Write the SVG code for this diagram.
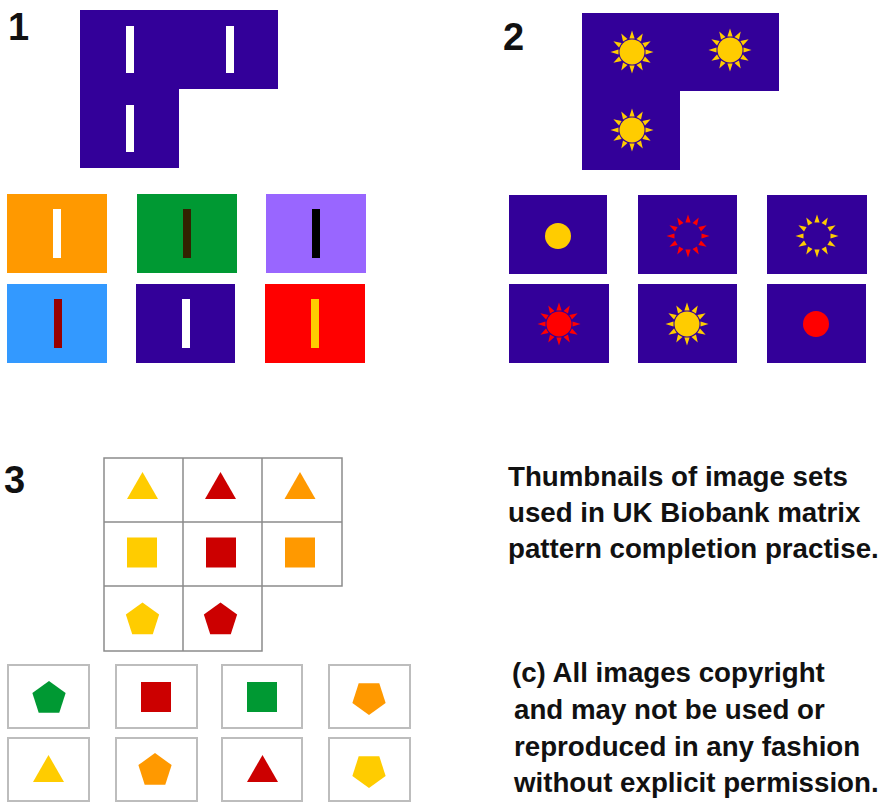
<svg xmlns="http://www.w3.org/2000/svg" xmlns:xlink="http://www.w3.org/1999/xlink" width="885" height="805" viewBox="0 0 885 805">
<style>
.num{font-family:"Liberation Sans",Arial,sans-serif;font-weight:bold;font-size:38px;fill:#111}
.txt{font-family:"Liberation Sans",Arial,sans-serif;font-weight:bold;font-size:27.7px;fill:#111}
.navy{fill:#330099}
.cell{fill:none;stroke:#8c8c8c;stroke-width:1.5}
.opt{fill:#fff;stroke:#bdbdbd;stroke-width:2}
</style>
<defs>
<g id="rays">
<polygon points="-2.6,-13.5 2.6,-13.5 0,-21.5"/>
<polygon points="-2.6,-13.5 2.6,-13.5 0,-21.5" transform="rotate(30)"/>
<polygon points="-2.6,-13.5 2.6,-13.5 0,-21.5" transform="rotate(60)"/>
<polygon points="-2.6,-13.5 2.6,-13.5 0,-21.5" transform="rotate(90)"/>
<polygon points="-2.6,-13.5 2.6,-13.5 0,-21.5" transform="rotate(120)"/>
<polygon points="-2.6,-13.5 2.6,-13.5 0,-21.5" transform="rotate(150)"/>
<polygon points="-2.6,-13.5 2.6,-13.5 0,-21.5" transform="rotate(180)"/>
<polygon points="-2.6,-13.5 2.6,-13.5 0,-21.5" transform="rotate(210)"/>
<polygon points="-2.6,-13.5 2.6,-13.5 0,-21.5" transform="rotate(240)"/>
<polygon points="-2.6,-13.5 2.6,-13.5 0,-21.5" transform="rotate(270)"/>
<polygon points="-2.6,-13.5 2.6,-13.5 0,-21.5" transform="rotate(300)"/>
<polygon points="-2.6,-13.5 2.6,-13.5 0,-21.5" transform="rotate(330)"/>
</g>
<g id="sun"><use xlink:href="#rays"/><circle r="12.5"/></g>
<polygon id="pent" points="0,-17.5 16.64,-5.41 10.29,14.16 -10.29,14.16 -16.64,-5.41"/>
<polygon id="tri" points="0,-14 15.5,13 -15.5,13"/>
<rect id="sq" x="-15" y="-15" width="30" height="30"/>
</defs>
<rect width="885" height="805" fill="#fff"/>

<g id="panel1">
<text class="num" x="8" y="40">1</text>
<path class="navy" d="M80,10 H278 V89 H179 V168 H80 Z"/>
<g fill="#fff">
<rect x="126" y="26" width="8" height="47"/>
<rect x="226" y="26" width="8" height="47"/>
<rect x="126" y="105" width="8" height="47"/>
</g>
<g id="p1-opt1"><rect x="7" y="194" width="100" height="79" fill="#FF9900"/><rect x="53" y="209" width="8" height="49" fill="#fff"/></g>
<g id="p1-opt2"><rect x="137" y="194" width="100" height="79" fill="#009933"/><rect x="183" y="209" width="8" height="49" fill="#332200"/></g>
<g id="p1-opt3"><rect x="266" y="194" width="100" height="79" fill="#9966FF"/><rect x="312" y="209" width="8" height="49" fill="#000"/></g>
<g id="p1-opt4"><rect x="7" y="284" width="100" height="79" fill="#3399FF"/><rect x="54" y="299" width="8" height="49" fill="#990000"/></g>
<g id="p1-opt5"><rect x="136" y="284" width="99" height="79" fill="#330099"/><rect x="182" y="299" width="8" height="49" fill="#fff"/></g>
<g id="p1-opt6"><rect x="265" y="284" width="100" height="79" fill="#FF0000"/><rect x="311" y="299" width="8" height="49" fill="#FFCC00"/></g>
</g>

<g id="panel2">
<text class="num" x="503" y="50">2</text>
<path class="navy" d="M582,13 H779 V91 H680 V170 H582 Z"/>
<g fill="#FFCC00">
<use xlink:href="#sun" x="632" y="52"/>
<use xlink:href="#sun" x="730" y="50"/>
<use xlink:href="#sun" x="632" y="130"/>
</g>
<g id="p2-opt1"><rect class="navy" x="509" y="195" width="98" height="79"/><circle cx="558" cy="236" r="13" fill="#FFCC00"/></g>
<g id="p2-opt2"><rect class="navy" x="638" y="195" width="99" height="79"/><use xlink:href="#rays" x="688" y="236" fill="#FF0000"/></g>
<g id="p2-opt3"><rect class="navy" x="767" y="195" width="100" height="79"/><use xlink:href="#rays" x="817" y="236" fill="#FFCC00"/></g>
<g id="p2-opt4"><rect class="navy" x="509" y="284" width="100" height="79"/><use xlink:href="#sun" x="559" y="324" fill="#FF0000"/></g>
<g id="p2-opt5"><rect class="navy" x="638" y="284" width="99" height="79"/><use xlink:href="#sun" x="687" y="324" fill="#FFCC00"/></g>
<g id="p2-opt6"><rect class="navy" x="767" y="284" width="99" height="79"/><circle cx="816" cy="324" r="13" fill="#FF0000"/></g>
</g>

<g id="panel3">
<text class="num" x="4" y="493">3</text>
<path class="cell" d="M104,458 H342 V586 H262 V651 H104 Z M183,458 V651 M262,458 V586 M104,522 H342 M104,586 H262"/>
<use xlink:href="#tri" x="142.5" y="486" fill="#FFCC00"/>
<use xlink:href="#tri" x="220.5" y="486" fill="#CC0000"/>
<use xlink:href="#tri" x="300" y="486" fill="#FF9900"/>
<use xlink:href="#sq" x="142" y="552.5" fill="#FFCC00"/>
<use xlink:href="#sq" x="221" y="552.5" fill="#CC0000"/>
<use xlink:href="#sq" x="300" y="552.5" fill="#FF9900"/>
<use xlink:href="#pent" x="142.5" y="620" fill="#FFCC00"/>
<use xlink:href="#pent" x="220.5" y="620" fill="#CC0000"/>

<g id="p3-opt1"><rect class="opt" x="8" y="665" width="81" height="63"/><use xlink:href="#pent" x="49" y="698.5" fill="#009933"/></g>
<g id="p3-opt2"><rect class="opt" x="116" y="665" width="81" height="63"/><use xlink:href="#sq" x="156" y="697" fill="#CC0000"/></g>
<g id="p3-opt3"><rect class="opt" x="222" y="665" width="80" height="63"/><use xlink:href="#sq" x="262" y="697" fill="#009933"/></g>
<g id="p3-opt4"><rect class="opt" x="329" y="665" width="81" height="63"/><use xlink:href="#pent" transform="translate(369,697.5) rotate(180)" fill="#FF9900"/></g>
<g id="p3-opt5"><rect class="opt" x="8" y="738" width="81" height="63"/><use xlink:href="#tri" x="48.5" y="769" fill="#FFCC00"/></g>
<g id="p3-opt6"><rect class="opt" x="116" y="738" width="81" height="63"/><use xlink:href="#pent" x="155" y="770.5" fill="#FF9900"/></g>
<g id="p3-opt7"><rect class="opt" x="222" y="738" width="80" height="63"/><use xlink:href="#tri" x="262.5" y="769" fill="#CC0000"/></g>
<g id="p3-opt8"><rect class="opt" x="329" y="738" width="81" height="63"/><use xlink:href="#pent" transform="translate(369,770.5) rotate(180)" fill="#FFCC00"/></g>
</g>

<g id="caption">
<text class="txt" x="508" y="486">Thumbnails of image sets</text>
<text class="txt" x="508" y="522">used in UK Biobank matrix</text>
<text class="txt" x="508" y="558">pattern completion practise.</text>
<text class="txt" x="512" y="682">(c) All images copyright</text>
<text class="txt" x="514" y="719">and may not be used or</text>
<text class="txt" x="514" y="756">reproduced in any fashion</text>
<text class="txt" x="514" y="792">without explicit permission.</text>
</g>
</svg>
